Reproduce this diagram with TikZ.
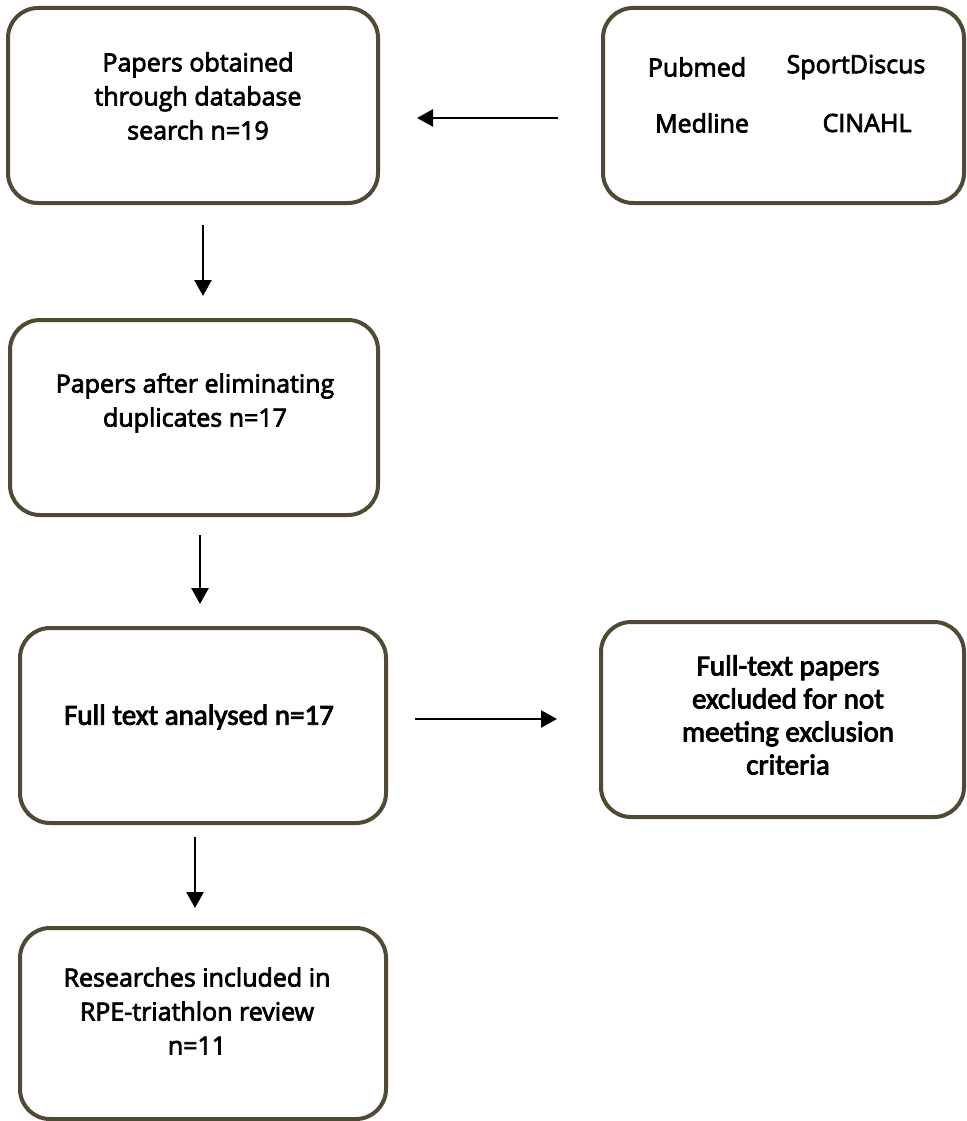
\documentclass[tikz,border=0pt]{standalone}
\usepackage{fontspec}
\setmainfont[FakeBold=3]{Open Sans}
\newfontfamily\condfont[FakeBold=3]{Carlito}
\usetikzlibrary{arrows.meta}
\definecolor{boxline}{RGB}{80,74,52}
\tikzset{
  box/.style={draw=boxline, line width=4pt, rounded corners=30pt, fill=white, inner sep=0pt},
  txt/.style={align=center, font=\fontsize{25}{34}\selectfont, inner sep=0pt},
  ctxt/.style={align=center, font=\condfont\fontsize{29}{33}\selectfont, inner sep=0pt},
  arr/.style={line width=2.6pt, -{Triangle[length=16pt,width=17pt]}}
}
\begin{document}
\begin{tikzpicture}[x=1pt,y=1pt]
\useasboundingbox (0,0) rectangle (966,-1121);
% boxes
\node[box, minimum width=370pt, minimum height=195pt] (b1) at (193,-105.5) {};
\node[box, minimum width=361pt, minimum height=195pt] (db) at (783.5,-105.5) {};
\node[box, minimum width=368pt, minimum height=195pt] (b3) at (194,-417.5) {};
\node[box, minimum width=366pt, minimum height=195pt] (b4) at (203,-725.5) {};
\node[box, minimum width=363pt, minimum height=195pt] (b5) at (782.5,-719.5) {};
\node[box, minimum width=366pt, minimum height=191pt] (b6) at (203,-1023.5) {};
% texts
\node[txt] (t1) at (198,-96) {Papers obtained\\through database\\search n=19};
\node[txt] (pub) at (697,-67) {Pubmed};
\node[txt] (spd) at (856,-67) {SportDiscus};
\node[txt] (med) at (702,-123) {Medline};
\node[txt] (cin) at (867,-123) {CINAHL};
\node[txt] (t3) at (195,-403) {Papers after eliminating\\duplicates n=17};
\node[ctxt] (t4) at (199,-717) {Full text analysed n=17};
\node[ctxt] (t5) at (788,-715) {Full-text papers\\excluded for not\\meeting exclusion\\criteria};
\node[txt] (t6) at (197,-1011) {Researches included in\\RPE-triathlon review\\n=11};
% arrows
\draw[arr, shorten <=43pt, shorten >=37pt] ([yshift=-12.5pt]db.west) -- ([yshift=-12.5pt]b1.east);
\draw[arr, shorten <=20pt, shorten >=22pt] ([xshift=10pt]b1.south) -- ([xshift=9pt]b3.north);
\draw[arr, shorten <=18pt, shorten >=22pt] ([xshift=6pt]b3.south) -- ([xshift=-3pt]b4.north);
\draw[arr, shorten <=27pt, shorten >=42pt] ([yshift=6.5pt]b4.east) -- ([yshift=0.5pt]b5.west);
\draw[arr, shorten <=12pt, shorten >=18pt] ([xshift=-8pt]b4.south) -- ([xshift=-8pt]b6.north);
\end{tikzpicture}
\end{document}
